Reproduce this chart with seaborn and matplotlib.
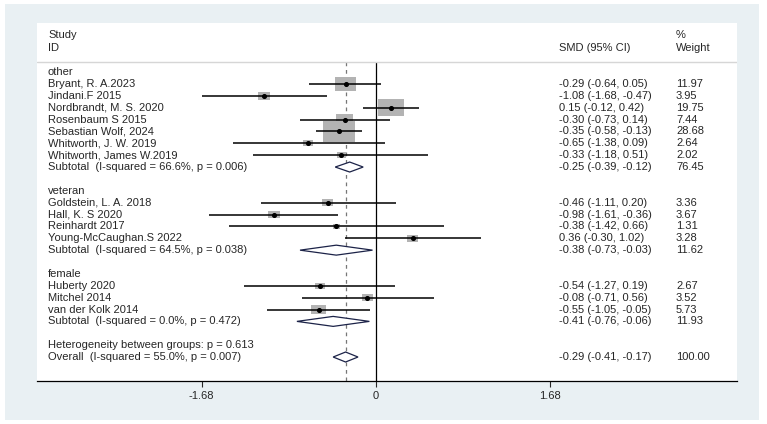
import numpy as np
import pandas as pd
import matplotlib
matplotlib.use("Agg")
import matplotlib.pyplot as plt
import matplotlib.transforms as mtransforms
from matplotlib.patches import Rectangle
import seaborn as sns

# studies (label, group, SMD, lower, upper, weight)
studies = ["Bryant, R. A.2023", "Jindani.F 2015", "Nordbrandt, M. S. 2020",
           "Rosenbaum S 2015", "Sebastian Wolf, 2024", "Whitworth, J. W. 2019",
           "Whitworth, James W.2019",
           "Goldstein, L. A. 2018", "Hall, K. S 2020", "Reinhardt 2017",
           "Young-McCaughan.S 2022",
           "Huberty 2020", "Mitchel 2014", "van der Kolk 2014"]
groups = ["other"] * 7 + ["veteran"] * 4 + ["female"] * 3
smd = [-0.29, -1.08, 0.15, -0.30, -0.35, -0.65, -0.33,
       -0.46, -0.98, -0.38, 0.36,
       -0.54, -0.08, -0.55]
lo = [-0.64, -1.68, -0.12, -0.73, -0.58, -1.38, -1.18,
      -1.11, -1.61, -1.42, -0.30,
      -1.27, -0.71, -1.05]
hi = [0.05, -0.47, 0.42, 0.14, -0.13, 0.09, 0.51,
      0.20, -0.36, 0.66, 1.02,
      0.19, 0.56, -0.05]
weight = [11.97, 3.95, 19.75, 7.44, 28.68, 2.64, 2.02,
          3.36, 3.67, 1.31, 3.28,
          2.67, 3.52, 5.73]

group_names = ["other", "veteran", "female"]
sub_labels = ["Subtotal  (I-squared = 66.6%, p = 0.006)",
              "Subtotal  (I-squared = 64.5%, p = 0.038)",
              "Subtotal  (I-squared = 0.0%, p = 0.472)"]
sub_smd = [-0.25, -0.38, -0.41]
sub_lo = [-0.39, -0.73, -0.76]
sub_hi = [-0.12, -0.03, -0.06]
sub_weight = [76.45, 11.62, 11.93]

het_label = "Heterogeneity between groups: p = 0.613"
overall_label = "Overall  (I-squared = 55.0%, p = 0.007)"
overall = [-0.29, -0.41, -0.17, 100.00]

xticks = [-1.68, 0, 1.68]

# ---- build row layout
rows = []
r = 0
for g, name in enumerate(group_names):
    rows.append(dict(row=r, kind="head", label=name))
    r += 1
    for i in range(len(studies)):
        if groups[i] == name:
            rows.append(dict(row=r, kind="study", label=studies[i], smd=smd[i],
                             lo=lo[i], hi=hi[i], w=weight[i]))
            r += 1
    rows.append(dict(row=r, kind="sub", label=sub_labels[g], smd=sub_smd[g],
                     lo=sub_lo[g], hi=sub_hi[g], w=sub_weight[g]))
    r += 2
rows.append(dict(row=r, kind="head", label=het_label))
r += 1
rows.append(dict(row=r, kind="sub", label=overall_label, smd=overall[0],
                 lo=overall[1], hi=overall[2], w=overall[3]))
df = pd.DataFrame(rows)
st = df[df.kind == "study"]

sns.set_style("white")
plt.rcParams["font.family"] = ["Liberation Sans", "DejaVu Sans"]

fig = plt.figure(figsize=(7.67, 4.24), dpi=100)
fig.patch.set_facecolor("white")
bg = Rectangle((5 / 767, 4 / 424), 754 / 767, 416 / 424,
               transform=fig.transFigure, facecolor="#e9f0f3",
               edgecolor="none", zorder=-10)
fig.add_artist(bg)
ax = fig.add_axes([37 / 767, 1 - 381 / 424, 700 / 767, 358 / 424])
ax.set_facecolor("white")
ax.set_zorder(1)

ax.set_xlim(-3.27, 3.49)
ax.set_ylim(26.02, -4.13)

# reference lines
ax.vlines(0, -0.84, 26.02, color="black", lw=0.9, zorder=1)
ax.vlines(overall[0], -0.84, 26.02, color="#777777", lw=0.9,
          linestyles=(0, (3, 3)), zorder=1)

# CI lines
ax.hlines(st["row"], st["lo"], st["hi"], color="black", lw=1.1, zorder=3)

# weight boxes (stretched like the source)
box = [(-1, -0.65), (1, -0.65), (1, 0.65), (-1, 0.65), (-1, -0.65)]
k = 18.7
sns.scatterplot(data=st, x="smd", y="row", size="w",
                sizes=(k * st.w.min(), k * st.w.max()),
                size_norm=(st.w.min(), st.w.max()),
                marker=box, color="#b3b3b3", edgecolor="none",
                legend=False, ax=ax, zorder=2)
ax.scatter(st["smd"], st["row"], s=7, color="black", zorder=4)

# diamonds
for _, d in df[df.kind == "sub"].iterrows():
    ax.fill([d.lo, d.smd, d.hi, d.smd, d.lo],
            [d.row, d.row - 0.42, d.row, d.row + 0.42, d.row],
            facecolor="white", edgecolor="#1c2348", lw=0.9, zorder=3)

# text columns
tr = mtransforms.blended_transform_factory(ax.transAxes, ax.transData)
fs = 8
ax.text(11 / 700, -3.12, "Study", transform=tr, fontsize=fs, va="center")
ax.text(11 / 700, -2.02, "ID", transform=tr, fontsize=fs, va="center")
ax.text(522 / 700, -2.02, "SMD (95% CI)", transform=tr, fontsize=fs, va="center")
ax.text(639 / 700, -3.12, "%", transform=tr, fontsize=fs, va="center")
ax.text(639 / 700, -2.02, "Weight", transform=tr, fontsize=fs, va="center")
ax.plot([0, 1], [-0.84, -0.84], transform=tr, color="#d6d6d6", lw=1.0)

for _, d in df.iterrows():
    ax.text(11 / 700, d.row, d.label, transform=tr, fontsize=fs, va="center")
    if d.kind in ("study", "sub"):
        ax.text(522 / 700, d.row, f"{d.smd:.2f} ({d.lo:.2f}, {d.hi:.2f})",
                transform=tr, fontsize=fs, va="center")
        ax.text(639 / 700, d.row, f"{d.w:.2f}", transform=tr, fontsize=fs,
                va="center")

# axis
for s in ["top", "left", "right"]:
    ax.spines[s].set_visible(False)
ax.spines["bottom"].set_color("black")
ax.spines["bottom"].set_linewidth(0.9)
ax.set_yticks([])
ax.set_xticks(xticks)
ax.set_xticklabels([f"{t:g}" for t in xticks])
ax.tick_params(axis="x", direction="out", length=4, width=0.8, labelsize=fs,
               pad=3, bottom=True)
ax.set_xlabel("")
ax.set_ylabel("")

fig.savefig("out.png", dpi=100)
